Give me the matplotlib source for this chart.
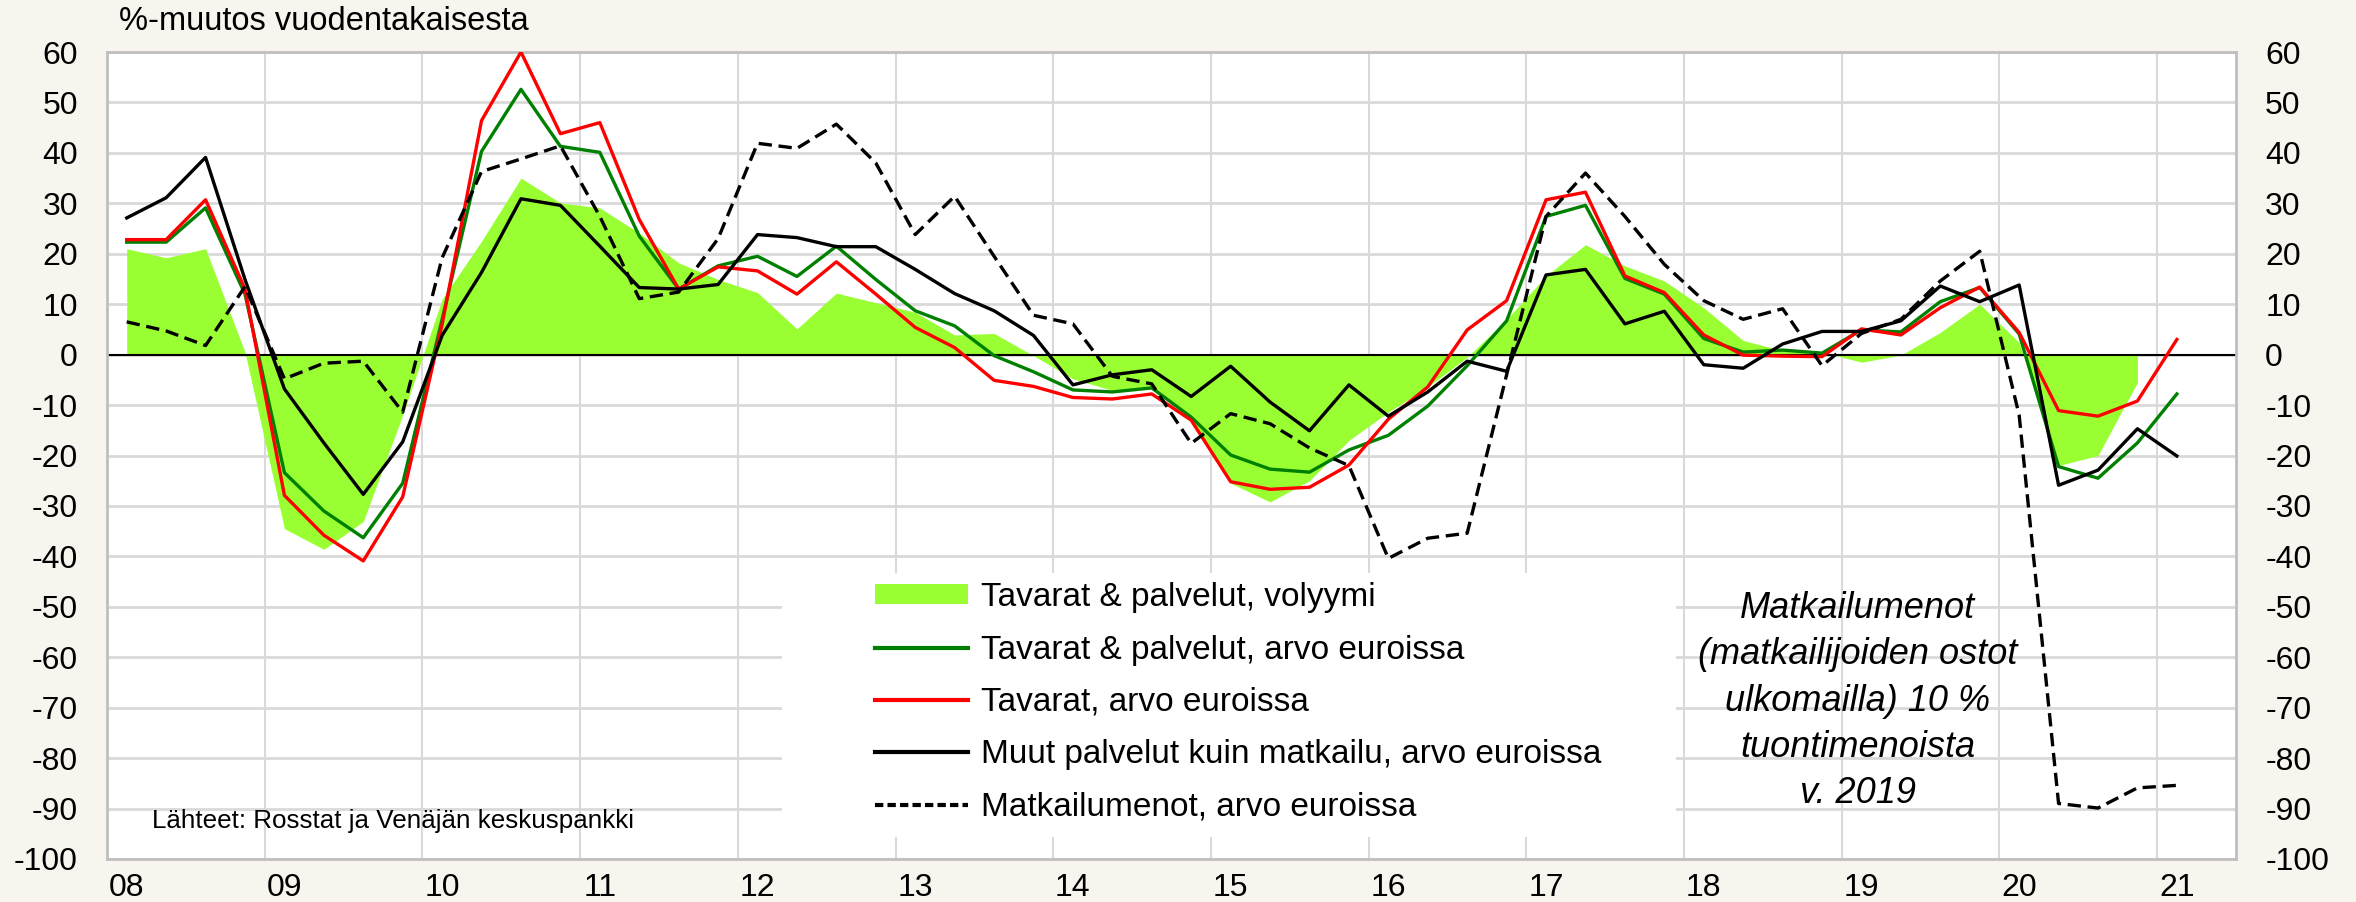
import matplotlib
matplotlib.use("Agg")
import matplotlib.pyplot as plt
from matplotlib.patches import Rectangle
from matplotlib.lines import Line2D
from matplotlib.patches import Patch
import numpy as np

plt.rcParams['font.family'] = ['Liberation Sans', 'DejaVu Sans']
plt.rcParams['axes.unicode_minus'] = False

# neljännesvuodet 2008Q1 ... 2021Q1
years = ['08', '09', '10', '11', '12', '13', '14', '15', '16', '17', '18', '19', '20', '21']

# Tavarat & palvelut, volyymi (2008Q1 ... 2020Q4)
volyymi = [21.0, 19.2, 21.0, 0.5, -34.5, -38.6, -33.1, -12.0, 11.0, 22.5, 35.0, 30.1,
           29.1, 24.1, 18.2, 14.9, 12.3, 5.1, 12.2, 10.3, 8.4, 3.9, 4.2, -0.2,
           -4.8, -7.1, -6.4, -12.7, -25.5, -29.2, -25.0, -17.0, -11.4, -6.4, -0.5, 7.0,
           15.6, 21.8, 17.6, 14.6, 9.3, 2.8, 0.8, 0.5, -1.5, -0.1, 4.4, 10.0,
           2.4, -22.0, -20.0, -5.5]

# Tavarat & palvelut, arvo euroissa
tp_arvo = [22.3, 22.3, 29.1, 12.0, -23.4, -31.0, -36.3, -25.5, 7.0, 40.3, 52.6, 41.3,
           40.1, 23.5, 13.0, 17.6, 19.5, 15.5, 21.5, 14.9, 8.7, 5.7, -0.2, -3.4,
           -7.0, -7.4, -6.6, -12.4, -19.9, -22.7, -23.3, -18.9, -16.0, -10.2, -2.2, 6.7,
           27.4, 29.6, 15.1, 12.0, 3.2, 0.5, 0.9, 0.3, 4.9, 4.5, 10.5, 13.3,
           4.1, -22.2, -24.5, -17.5, -7.8]

# Tavarat, arvo euroissa
tavarat = [22.8, 22.8, 30.7, 13.0, -27.9, -35.8, -40.9, -28.2, 6.0, 46.4, 60.0, 43.8,
           46.0, 26.8, 13.0, 17.4, 16.6, 12.0, 18.4, 12.0, 5.4, 1.4, -5.1, -6.3,
           -8.5, -8.8, -7.8, -13.0, -25.2, -26.7, -26.3, -21.9, -12.8, -6.4, 4.9, 10.7,
           30.7, 32.2, 15.6, 12.3, 3.9, -0.1, -0.3, -0.4, 5.1, 3.9, 9.3, 13.4,
           4.4, -11.1, -12.2, -9.2, 3.0]

# Muut palvelut kuin matkailu, arvo euroissa
muut = [27.1, 31.1, 39.1, 14.9, -6.8, -17.5, -27.7, -17.3, 3.8, 16.3, 30.9, 29.6,
        21.5, 13.3, 13.0, 13.9, 23.8, 23.2, 21.4, 21.4, 16.9, 12.1, 8.7, 3.8,
        -6.0, -4.0, -3.0, -8.3, -2.3, -9.4, -15.1, -6.0, -12.2, -7.4, -1.3, -3.3,
        15.8, 16.9, 6.1, 8.6, -2.0, -2.7, 2.1, 4.6, 4.6, 6.7, 13.6, 10.5,
        13.8, -25.9, -22.9, -14.7, -20.1]

# Matkailumenot, arvo euroissa
matkailu = [6.5, 4.7, 1.8, 13.5, -4.8, -1.7, -1.3, -11.4, 19.2, 36.3, 38.8, 41.4,
            27.4, 11.1, 12.4, 23.0, 41.9, 40.9, 45.7, 38.0, 23.8, 31.4, 19.5, 7.8,
            6.1, -4.3, -5.8, -17.6, -11.7, -13.7, -18.5, -22.0, -40.4, -36.4, -35.4, -4.0,
            27.4, 36.0, 27.4, 17.9, 10.7, 7.0, 9.1, -2.2, 4.2, 7.0, 14.6, 20.5,
            -12.0, -89.0, -89.9, -85.9, -85.4]

bg = '#F8F4EE'
c_fill = '#99FF33'
c_green = '#008000'
c_red = '#FF0000'

W, H = 2356, 902
fig = plt.figure(figsize=(W / 100, H / 100), dpi=100, facecolor=bg)
ax = fig.add_axes([107 / W, 1 - 859 / H, 2129 / W, 807 / H])
ax.set_facecolor('white')

x_vol = np.arange(len(volyymi))
x = np.arange(len(tp_arvo))

ax.fill_between(x_vol, 0, volyymi, color=c_fill, lw=0, zorder=2)
ax.axhline(0, color='black', lw=1.5, zorder=2.5)
ax.plot(x, tp_arvo, color=c_green, lw=2.4, zorder=3)
ax.plot(x, tavarat, color=c_red, lw=2.4, zorder=3.1)
ax.plot(x, muut, color='black', lw=2.4, zorder=3.2)
ax.plot(x, matkailu, color='black', lw=2.4, ls=(0, (4, 2)), zorder=3.3)

ax.set_xlim(-0.5, 53.5)
ax.set_ylim(-100, 60)
ax.set_yticks(np.arange(-100, 61, 10))
ax.set_xticks(np.arange(0, 53, 4))
ax.set_xticklabels(years)
ax.set_xticks(np.arange(3.5, 53, 4), minor=True)
ax.grid(axis='y', which='major', color='#D9D9D9', lw=2)
ax.grid(axis='x', which='minor', color='#D9D9D9', lw=1.5)
ax.set_axisbelow(True)

ax.tick_params(axis='y', which='both', length=0, labelsize=23, pad=21,
               labelleft=True, labelright=True)
ax.tick_params(axis='x', which='both', length=0, labelsize=23, pad=10)
for s in ax.spines.values():
    s.set_color('#BFBFBF')
    s.set_linewidth(2)

# legendan valkoinen tausta
ax.add_patch(Rectangle((0.317, 0.027), 0.42, 0.328, transform=ax.transAxes,
                       facecolor='white', edgecolor='none', zorder=1.5))
handles = [
    Patch(facecolor=c_fill, edgecolor='none'),
    Line2D([], [], color=c_green, lw=3),
    Line2D([], [], color=c_red, lw=3),
    Line2D([], [], color='black', lw=3),
    Line2D([], [], color='black', lw=3, ls=(0, (2, 1))),
]
labels = ['Tavarat & palvelut, volyymi', 'Tavarat & palvelut, arvo euroissa',
          'Tavarat, arvo euroissa', 'Muut palvelut kuin matkailu, arvo euroissa',
          'Matkailumenot, arvo euroissa']
ax.legend(handles, labels, loc='upper left', bbox_to_anchor=(0.3607, 0.343),
          frameon=False, fontsize=24, handlelength=2.8, handleheight=0.55,
          handletextpad=0.38, labelspacing=0.64, borderpad=0, borderaxespad=0)

ax.text(0.021, 0.047, 'Lähteet: Rosstat ja Venäjän keskuspankki', transform=ax.transAxes,
        fontsize=18.7, va='center', ha='left', zorder=5)
ax.text(43.9, -68.7, 'Matkailumenot\n(matkailijoiden ostot\nulkomailla) 10 %\ntuontimenoista\nv. 2019',
        fontsize=26, style='italic', ha='center', va='center', linespacing=1.42, zorder=5)

fig.text(119 / W, 1 - 21 / H, '%-muutos vuodentakaisesta', fontsize=23.5, ha='left', va='center')

fig.savefig('out.png', dpi=100, facecolor=bg)
